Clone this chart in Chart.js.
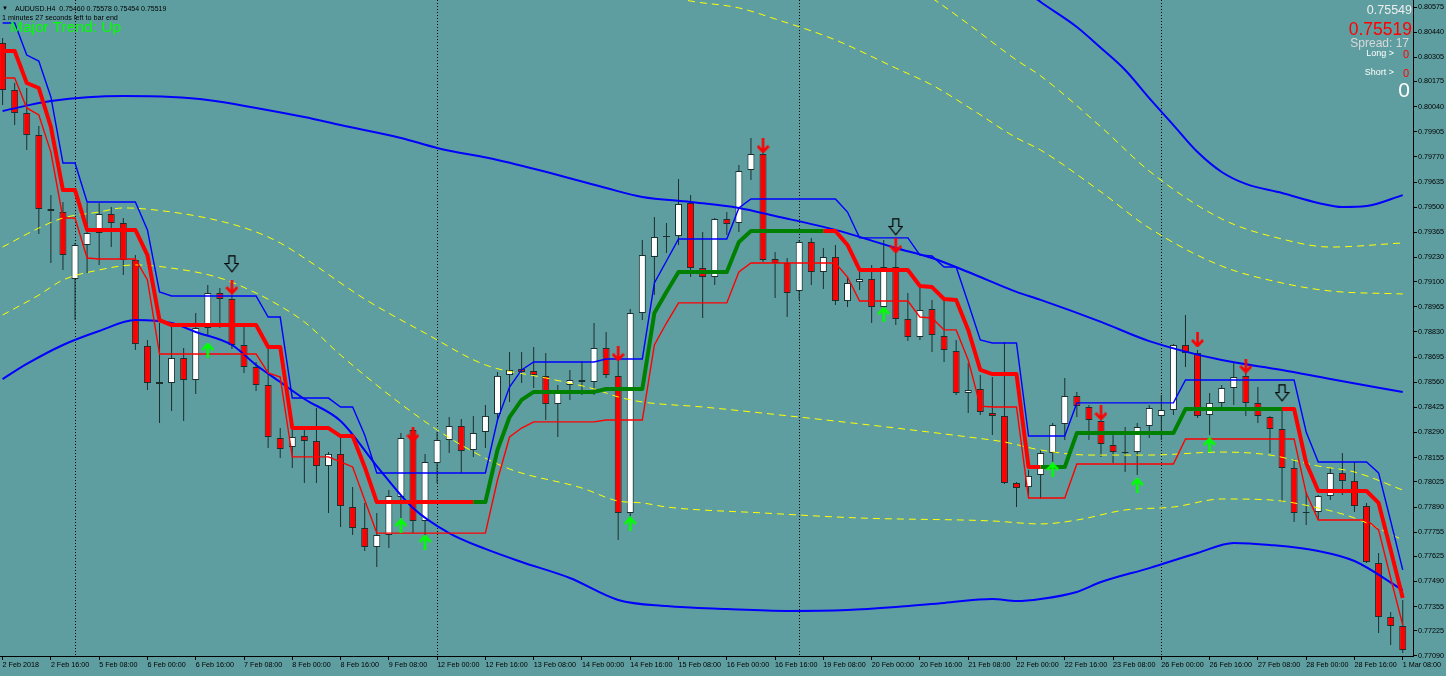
<!DOCTYPE html>
<html><head><meta charset="utf-8">
<script src="https://cdn.jsdelivr.net/npm/chart.js@4.4.1/dist/chart.umd.min.js"></script>
<style>
html,body{margin:0;padding:0;background:#5F9EA0;}
#wrap{position:relative;width:1446px;height:676px;background:#5F9EA0;overflow:hidden;}
#c{position:absolute;left:0;top:0;}
.t{position:absolute;white-space:nowrap;font-family:'Liberation Sans',Arial,sans-serif;line-height:1;}
.r{text-align:right;}
</style></head><body>
<div id="wrap">
<canvas id="c" width="1446" height="676"></canvas>
<div class="t" style="left:2px;top:5px;font-size:6px;color:#000;">▼</div>
<div class="t" style="left:15px;top:4.6px;font-size:7px;color:#000;">AUDUSD.H4&nbsp;&nbsp;0.75460 0.75578 0.75454 0.75519</div>
<div class="t" style="left:2px;top:13.5px;font-size:7.2px;color:#000;">1 minutes 27 seconds left to bar end</div>
<div class="t" style="left:10px;top:19.2px;font-size:15.5px;color:#00FF00;">Major Trend: Up</div>
<div class="t r" style="right:34px;top:4.4px;font-size:12.5px;color:#EEEEEE;">0.75549</div>
<div class="t r" style="right:34px;top:20.9px;font-size:17.5px;color:#FF0000;">0.75519</div>
<div class="t r" style="right:37px;top:37.1px;font-size:12px;color:#D8D8D8;">Spread: 17</div>
<div class="t r" style="right:52px;top:48.6px;font-size:9px;color:#FFFFFF;">Long &gt;</div>
<div class="t r" style="right:37px;top:48.6px;font-size:11px;color:#FF0000;">0</div>
<div class="t r" style="right:52px;top:68px;font-size:9px;color:#FFFFFF;">Short &gt;</div>
<div class="t r" style="right:37px;top:67.6px;font-size:11px;color:#FF0000;">0</div>
<div class="t r" style="right:36px;top:79.2px;font-size:21px;color:#FFFFFF;">0</div>
</div>
<script>
// ---- tick labels ----
const xLabels = ["2 Feb 2018","2 Feb 16:00","5 Feb 08:00","6 Feb 00:00","6 Feb 16:00","7 Feb 08:00","8 Feb 00:00","8 Feb 16:00","9 Feb 08:00","12 Feb 00:00","12 Feb 16:00","13 Feb 08:00","14 Feb 00:00","14 Feb 16:00","15 Feb 08:00","16 Feb 00:00","16 Feb 16:00","19 Feb 08:00","20 Feb 00:00","20 Feb 16:00","21 Feb 08:00","22 Feb 00:00","22 Feb 16:00","23 Feb 08:00","26 Feb 00:00","26 Feb 16:00","27 Feb 08:00","28 Feb 00:00","28 Feb 16:00","1 Mar 08:00"];
const xTickBars = [0,4,8,12,16,20,24,28,32,36,40,44,48,52,56,60,64,68,72,76,80,84,88,92,96,100,104,108,112,116];
const yTicks = [0.80575,0.80440,0.80305,0.80175,0.80040,0.79905,0.79770,0.79635,0.79500,0.79365,0.79230,0.79100,0.78965,0.78830,0.78695,0.78560,0.78425,0.78290,0.78155,0.78025,0.77890,0.77755,0.77625,0.77490,0.77355,0.77225,0.77090];
const weekSeparatorBars = [6,36,66,96];

// ---- candles (H4 bars) ----
const open = [0.80382,0.80129,0.80006,0.79888,0.79490,0.79474,0.79114,0.79297,0.79361,0.79463,
0.79415,0.79216,0.78755,0.78561,0.78556,0.78690,0.78572,0.78851,0.79039,0.79007,
0.78760,0.78642,0.78545,0.78261,0.78212,0.78271,0.78244,0.78110,0.78175,0.77890,
0.77777,0.77675,0.77740,0.77944,0.78304,0.77815,0.78126,0.78250,0.78325,0.78196,
0.78293,0.78389,0.78599,0.78631,0.78620,0.78594,0.78443,0.78545,0.78572,0.78561,
0.78744,0.78594,0.77858,0.78932,0.79233,0.79340,0.79345,0.79523,0.79173,0.79125,
0.79437,0.79415,0.79700,0.79786,0.79222,0.79200,0.79050,0.79313,0.79152,0.79233,
0.78996,0.79098,0.79114,0.78964,0.79179,0.78900,0.78803,0.78953,0.78808,0.78728,
0.78502,0.78524,0.78395,0.78379,0.78019,0.77997,0.78062,0.78180,0.78336,0.78486,
0.78427,0.78352,0.78223,0.78185,0.78185,0.78325,0.78379,0.78411,0.78760,0.78717,
0.78384,0.78449,0.78529,0.78594,0.78449,0.78373,0.78309,0.78099,0.77863,0.77863,
0.77949,0.78073,0.78030,0.77895,0.77589,0.77299,0.77251];
const high = [0.80409,0.80167,0.80140,0.79936,0.79565,0.79528,0.79308,0.79523,0.79523,0.79501,
0.79442,0.79243,0.78787,0.78878,0.78857,0.78744,0.78932,0.79082,0.79066,0.79028,
0.78857,0.78669,0.78744,0.78314,0.78320,0.78314,0.78422,0.78185,0.78277,0.77997,
0.77912,0.77858,0.77981,0.78287,0.78314,0.78175,0.78293,0.78373,0.78363,0.78379,
0.78438,0.78615,0.78722,0.78722,0.78749,0.78717,0.78545,0.78626,0.78674,0.78878,
0.78830,0.78679,0.78953,0.79324,0.79447,0.79415,0.79651,0.79565,0.79367,0.79442,
0.79474,0.79727,0.79872,0.79807,0.79259,0.79227,0.79324,0.79335,0.79281,0.79297,
0.79125,0.79152,0.79190,0.79324,0.79259,0.79039,0.79066,0.79002,0.79002,0.78787,
0.78663,0.78599,0.78588,0.78776,0.78024,0.78089,0.78196,0.78341,0.78583,0.78508,
0.78438,0.78357,0.78293,0.78320,0.78341,0.78438,0.78491,0.78765,0.78921,0.78733,
0.78502,0.78545,0.78663,0.78610,0.78534,0.78379,0.78411,0.78148,0.77971,0.77954,
0.78099,0.78180,0.78132,0.77912,0.77643,0.77326,0.77391];
const low = [0.80049,0.79941,0.79807,0.79356,0.79200,0.79163,0.78894,0.79147,0.79190,0.79286,
0.79136,0.78733,0.78518,0.78341,0.78406,0.78352,0.78497,0.78814,0.78851,0.78739,
0.78610,0.78513,0.78207,0.78153,0.78099,0.78019,0.78019,0.77858,0.77783,0.77740,
0.77654,0.77568,0.77670,0.77831,0.77750,0.77740,0.78019,0.78180,0.78073,0.78159,
0.78207,0.78357,0.78454,0.78556,0.78529,0.78357,0.78266,0.78465,0.78491,0.78491,
0.78583,0.77713,0.77820,0.78894,0.79028,0.79254,0.79297,0.79125,0.78905,0.79082,
0.79351,0.79367,0.79646,0.79206,0.79012,0.78910,0.79002,0.79082,0.79061,0.78975,
0.78964,0.79055,0.78878,0.78953,0.78867,0.78781,0.78787,0.78722,0.78669,0.78491,
0.78395,0.78384,0.78277,0.78014,0.77890,0.77938,0.77933,0.78132,0.78250,0.78373,
0.78250,0.78159,0.78126,0.78078,0.78062,0.78261,0.78250,0.78384,0.78642,0.78368,
0.78277,0.78411,0.78438,0.78379,0.78341,0.78180,0.77917,0.77810,0.77793,0.77820,
0.77928,0.77954,0.77863,0.77589,0.77213,0.77149,0.77106];
const close = [0.80129,0.80006,0.79888,0.79490,0.79480,0.79243,0.79297,0.79361,0.79463,0.79415,
0.79216,0.78765,0.78556,0.78551,0.78690,0.78572,0.78851,0.79039,0.79007,0.78760,
0.78642,0.78545,0.78266,0.78202,0.78266,0.78244,0.78110,0.78175,0.77895,0.77777,
0.77675,0.77740,0.77949,0.78261,0.77815,0.78132,0.78250,0.78325,0.78191,0.78287,
0.78379,0.78594,0.78626,0.78615,0.78599,0.78443,0.78502,0.78572,0.78561,0.78744,
0.78599,0.77858,0.78932,0.79243,0.79340,0.79345,0.79517,0.79173,0.79125,0.79437,
0.79410,0.79694,0.79786,0.79216,0.79200,0.79039,0.79313,0.79152,0.79233,0.78996,
0.79093,0.79114,0.78964,0.79179,0.78900,0.78803,0.78948,0.78814,0.78733,0.78502,
0.78518,0.78400,0.78379,0.78019,0.77992,0.78057,0.78180,0.78330,0.78486,0.78432,
0.78357,0.78228,0.78185,0.78180,0.78320,0.78422,0.78411,0.78760,0.78717,0.78379,
0.78449,0.78529,0.78588,0.78449,0.78379,0.78309,0.78099,0.77858,0.77858,0.77949,
0.78073,0.78030,0.77895,0.77595,0.77299,0.77251,0.77122];

// ---- channel / trend lines (one value per bar) ----
const channelHigh = [0.80489,0.80489,0.80317,0.80285,0.80092,0.79737,0.79737,0.79528,0.79528,0.79528,
0.79528,0.79528,0.79378,0.79045,0.79023,0.79023,0.79023,0.79023,0.79023,0.79023,
0.79023,0.79023,0.78910,0.78910,0.78475,0.78475,0.78475,0.78475,0.78427,0.78427,
0.78277,0.78073,0.78073,0.78073,0.78073,0.78073,0.78073,0.78073,0.78073,0.78073,
0.78073,0.78357,0.78534,0.78626,0.78669,0.78669,0.78669,0.78669,0.78669,0.78669,
0.78685,0.78685,0.78685,0.78685,0.79093,0.79211,0.79329,0.79329,0.79329,0.79329,
0.79329,0.79496,0.79544,0.79544,0.79544,0.79544,0.79544,0.79544,0.79544,0.79544,
0.79474,0.79335,0.79335,0.79335,0.79335,0.79335,0.79243,0.79238,0.79179,0.79179,
0.78986,0.78787,0.78771,0.78771,0.78771,0.78271,0.78271,0.78271,0.78271,0.78449,
0.78449,0.78449,0.78449,0.78449,0.78449,0.78449,0.78449,0.78449,0.78572,0.78572,
0.78572,0.78572,0.78572,0.78572,0.78572,0.78572,0.78572,0.78572,0.78293,0.78132,
0.78132,0.78132,0.78132,0.78132,0.78073,0.77815,0.77552];
const trendLine = [0.80339,0.80339,0.80167,0.80140,0.79931,0.79592,0.79592,0.79378,0.79378,0.79378,
0.79378,0.79378,0.79243,0.78894,0.78867,0.78867,0.78867,0.78867,0.78867,0.78867,
0.78867,0.78867,0.78749,0.78749,0.78314,0.78314,0.78314,0.78314,0.78271,0.78271,
0.78105,0.77917,0.77917,0.77917,0.77917,0.77917,0.77917,0.77917,0.77917,0.77917,
0.77917,0.78196,0.78373,0.78465,0.78508,0.78508,0.78508,0.78508,0.78508,0.78508,
0.78524,0.78524,0.78524,0.78524,0.78932,0.79045,0.79152,0.79152,0.79152,0.79152,
0.79152,0.79313,0.79372,0.79372,0.79372,0.79372,0.79372,0.79372,0.79372,0.79372,
0.79297,0.79163,0.79163,0.79163,0.79163,0.79163,0.79077,0.79071,0.79007,0.79002,
0.78841,0.78626,0.78604,0.78604,0.78604,0.78105,0.78105,0.78105,0.78105,0.78287,
0.78287,0.78287,0.78287,0.78287,0.78287,0.78287,0.78287,0.78287,0.78416,0.78416,
0.78416,0.78416,0.78416,0.78416,0.78416,0.78416,0.78416,0.78416,0.78126,0.77976,
0.77976,0.77976,0.77976,0.77976,0.77912,0.77659,0.77401];
const channelLow = [0.80194,0.80194,0.80033,0.79995,0.79796,0.79442,0.79442,0.79227,0.79222,0.79222,
0.79222,0.79222,0.79109,0.78712,0.78712,0.78712,0.78712,0.78712,0.78712,0.78712,
0.78712,0.78712,0.78610,0.78588,0.78159,0.78159,0.78159,0.78159,0.78132,0.78105,
0.77928,0.77750,0.77750,0.77750,0.77750,0.77750,0.77750,0.77750,0.77750,0.77750,
0.77750,0.78035,0.78266,0.78314,0.78347,0.78347,0.78347,0.78347,0.78347,0.78347,
0.78357,0.78357,0.78357,0.78357,0.78760,0.78878,0.78986,0.78986,0.78986,0.78986,
0.78986,0.79152,0.79200,0.79200,0.79200,0.79200,0.79200,0.79200,0.79200,0.79200,
0.79125,0.78996,0.78996,0.78996,0.78996,0.78996,0.78910,0.78905,0.78841,0.78841,
0.78679,0.78432,0.78427,0.78427,0.78427,0.77938,0.77938,0.77938,0.77938,0.78121,
0.78121,0.78121,0.78121,0.78121,0.78121,0.78121,0.78121,0.78121,0.78255,0.78255,
0.78255,0.78255,0.78255,0.78255,0.78255,0.78255,0.78255,0.78255,0.77965,0.77820,
0.77820,0.77820,0.77820,0.77820,0.77767,0.77509,0.77256];
// trend colour: bars where the trend line segment is green (uptrend)
const upTrendRanges = [[39,67],[86,105]];

// ---- bands (read at selected bars) ----
const bbMidBars = [0,4,10,14,17,21,25,28,33,36,41,46,50,53,57,61,64,69,74,77,80,84,86,91,95,101,106,110,116];
const bbMidVals = [0.80017,0.80070,0.80097,0.80092,0.80076,0.80033,0.79984,0.79941,0.79872,0.79818,0.79753,0.79673,0.79603,0.79555,0.79528,0.79496,0.79453,0.79378,0.79281,0.79227,0.79152,0.79045,0.79002,0.78884,0.78781,0.78679,0.78626,0.78577,0.78508];
const bbLowBars = [0,2,5,8,11,14,16,19,21,23,25,28,31,34,37,40,43,47,51,55,60,65,70,74,78,82,84,86,89,91,95,99,102,105,109,112,116];
const bbLowVals = [0.78577,0.78658,0.78760,0.78835,0.78894,0.78878,0.78830,0.78760,0.78653,0.78561,0.78470,0.78352,0.78110,0.77885,0.77750,0.77665,0.77595,0.77509,0.77391,0.77358,0.77342,0.77332,0.77337,0.77353,0.77375,0.77396,0.77385,0.77396,0.77434,0.77487,0.77562,0.77643,0.77697,0.77686,0.77654,0.77600,0.77444];
const bbUpBars = [80,83,86,89,91,93,95,97,99,101,103,106,109,111,113,116];
const bbUpVals = [0.80924,0.80747,0.80602,0.80468,0.80355,0.80237,0.80086,0.79941,0.79796,0.79689,0.79625,0.79576,0.79523,0.79501,0.79506,0.79565];
const ylInBars = [0,3,5,8,10,14,18,21,23,25,30,35,40,45,49,51,53,58,66,74,80,83,86,90,95,101,105,109,112,116];
const ylInVals = [0.79286,0.79388,0.79442,0.79474,0.79496,0.79474,0.79426,0.79367,0.79308,0.79227,0.79007,0.78824,0.78653,0.78583,0.78524,0.78481,0.78454,0.78427,0.78373,0.78314,0.78266,0.78239,0.78196,0.78169,0.78169,0.78185,0.78169,0.78110,0.78078,0.77981];
const ylOutBars = [0,3,5,8,11,14,18,21,23,25,28,34,38,42,48,51,53,55,63,71,82,86,89,93,97,101,105,109,112,116];
const ylOutVals = [0.78921,0.79028,0.79109,0.79163,0.79190,0.79173,0.79120,0.79039,0.78969,0.78884,0.78706,0.78395,0.78223,0.78094,0.77992,0.77922,0.77912,0.77890,0.77858,0.77831,0.77815,0.77799,0.77820,0.77874,0.77890,0.77933,0.77928,0.77885,0.77831,0.77713];
const yuInBars = [50,57,61,64,69,74,77,80,84,86,91,95,101,106,110,116];
const yuInVals = [0.80709,0.80607,0.80570,0.80511,0.80398,0.80247,0.80156,0.80038,0.79872,0.79807,0.79582,0.79388,0.79184,0.79093,0.79050,0.79034];
const yuOutBars = [72,77,80,84,86,91,95,101,106,110,116];
const yuOutVals = [0.80827,0.80623,0.80484,0.80290,0.80205,0.79931,0.79694,0.79437,0.79329,0.79286,0.79308];

// ---- signal arrows ----
const sellArrowBars = [19,34,51,63,74,91,99,103];
const sellArrowVals = [0.79071,0.78277,0.78712,0.79829,0.79292,0.78395,0.78787,0.78647];
const buyArrowBars = [17,33,35,52,73,87,94,100];
const buyArrowVals = [0.78733,0.77788,0.77702,0.77799,0.78926,0.78089,0.78008,0.78223];
const trendArrowBars = [19,74,106];
const trendArrowVals = [0.79195,0.79394,0.78502];

// ---------- build ----------
const Y_MIN = 0.770899, Y_MAX = 0.806126;
const X_MIN = -0.2154, X_MAX = 116.85;
const WICK = '#1c2e2e';

function mkArrow(dir, color){
  const c = document.createElement('canvas'); c.width = 13; c.height = 15;
  const g = c.getContext('2d'); g.strokeStyle = color; g.lineWidth = 2.6; g.lineCap='butt'; g.lineJoin='miter';
  g.beginPath();
  if (dir === 'down') { g.moveTo(6.5,0); g.lineTo(6.5,13.5); g.moveTo(1,7.5); g.lineTo(6.5,13.5); g.lineTo(12,7.5); }
  else { g.moveTo(6.5,15); g.lineTo(6.5,1.5); g.moveTo(1,7.5); g.lineTo(6.5,1.5); g.lineTo(12,7.5); }
  g.stroke(); return c;
}
function mkHollow(){
  const c = document.createElement('canvas'); c.width = 15; c.height = 18;
  const g = c.getContext('2d'); g.strokeStyle = '#000'; g.lineWidth = 1.2;
  g.beginPath(); g.moveTo(4.5,0.8); g.lineTo(10.5,0.8); g.lineTo(10.5,8.5); g.lineTo(14,8.5); g.lineTo(7.5,16.8); g.lineTo(1,8.5); g.lineTo(4.5,8.5); g.closePath();
  g.stroke(); return c;
}
const pts = (bars, vals) => bars.map((b,k)=>({x:b, y:vals[k]}));
const series = arr => arr.map((v,i)=>({x:i, y:v}));
const isUp = i => upTrendRanges.some(r => i >= r[0] && i <= r[1]);

const sepPlugin = {
  id:'sep',
  beforeDatasetsDraw(chart){
    const {ctx, chartArea:a, scales:{x}} = chart;
    ctx.save(); ctx.strokeStyle = '#000'; ctx.lineWidth = 1; ctx.setLineDash([1,2]);
    weekSeparatorBars.forEach(b=>{
      const px = Math.round(x.getPixelForValue(b)) + 0.5;
      ctx.beginPath(); ctx.moveTo(px, a.top); ctx.lineTo(px, a.bottom); ctx.stroke();
    });
    ctx.restore();
  }
};

const lineBase = {type:'line', pointRadius:0, pointHoverRadius:0, fill:false};
const bandStyle = {cubicInterpolationMode:'monotone', tension:0.4};

new Chart(document.getElementById('c'), {
  type:'line',
  data:{datasets:[
    {...lineBase, showLine:false, data:pts(sellArrowBars, sellArrowVals), pointStyle:mkArrow('down','#FF0000'), pointRadius:7, order:0},
    {...lineBase, showLine:false, data:pts(buyArrowBars, buyArrowVals), pointStyle:mkArrow('up','#00FF00'), pointRadius:7, order:0},
    {...lineBase, showLine:false, data:pts(trendArrowBars, trendArrowVals), pointStyle:mkHollow(), pointRadius:8, order:0},
    {...lineBase, data:series(trendLine), borderWidth:4, borderColor:'#FF0000', borderJoinStyle:'round',
      segment:{borderColor: c => isUp(c.p0DataIndex) ? '#008000' : '#FF0000'}, order:1},
    {...lineBase, data:series(channelLow), borderWidth:1.4, borderColor:'#FF0000', order:2},
    {...lineBase, data:series(channelHigh), borderWidth:1.4, borderColor:'#0000FF', order:3},
    {...lineBase, ...bandStyle, data:pts(bbMidBars, bbMidVals), borderWidth:2, borderColor:'#0000FF', order:4},
    {...lineBase, ...bandStyle, data:pts(bbLowBars, bbLowVals), borderWidth:2, borderColor:'#0000FF', order:4},
    {...lineBase, ...bandStyle, data:pts(bbUpBars, bbUpVals), borderWidth:2, borderColor:'#0000FF', order:4},
    {...lineBase, ...bandStyle, data:pts(ylInBars, ylInVals), borderWidth:1, borderColor:'#FFFF00', borderDash:[7,5], order:5},
    {...lineBase, ...bandStyle, data:pts(ylOutBars, ylOutVals), borderWidth:1, borderColor:'#FFFF00', borderDash:[7,5], order:5},
    {...lineBase, ...bandStyle, data:pts(yuInBars, yuInVals), borderWidth:1, borderColor:'#FFFF00', borderDash:[7,5], order:5},
    {...lineBase, ...bandStyle, data:pts(yuOutBars, yuOutVals), borderWidth:1, borderColor:'#FFFF00', borderDash:[7,5], order:5},
    {type:'bar', data:open.map((o,i)=>({x:i, y:[o, close[i]]})), barThickness:7, borderWidth:1, borderColor:WICK,
      borderSkipped:false, inflateAmount:0, minBarLength:1, grouped:false,
      backgroundColor: open.map((o,i)=> close[i] >= o ? '#FFFFFF' : '#FF0000'), order:6},
    {type:'bar', data:open.map((o,i)=>({x:i, y:[low[i], high[i]]})), barThickness:1, borderWidth:0,
      inflateAmount:0, grouped:false, backgroundColor:WICK, order:7}
  ]},
  options:{
    responsive:false, animation:false, devicePixelRatio:1,
    layout:{padding:0, autoPadding:false},
    plugins:{legend:{display:false}, tooltip:{enabled:false}, title:{display:false}},
    events:[],
    scales:{
      x:{type:'linear', min:X_MIN, max:X_MAX, offset:false, position:'bottom',
        afterBuildTicks: s => { s.ticks = xTickBars.map(v=>({value:v})); },
        afterFit: s => { s.height = 20; s.paddingLeft = 0; s.paddingRight = 0; },
        ticks:{autoSkip:false, maxRotation:0, minRotation:0, align:'start', padding:1, color:'#000',
          font:{family:"'Liberation Sans', Arial, sans-serif", size:7.2}, callback:(v,i)=>xLabels[i]},
        grid:{drawOnChartArea:false, drawTicks:true, tickLength:4, color:'#000', offset:false},
        border:{display:true, color:'#000', width:1}
      },
      y:{type:'linear', position:'right', min:Y_MIN, max:Y_MAX,
        afterBuildTicks: s => { s.ticks = yTicks.map(v=>({value:v})); },
        afterFit: s => { s.width = 33; s.paddingTop = 0; s.paddingBottom = 0; },
        ticks:{autoSkip:false, padding:1, color:'#000',
          font:{family:"'Liberation Sans', Arial, sans-serif", size:7.2}, callback: v => Number(v).toFixed(5)},
        grid:{drawOnChartArea:false, drawTicks:true, tickLength:4, color:'#000'},
        border:{display:true, color:'#000', width:1}
      }
    }
  },
  plugins:[sepPlugin]
});
</script>
</body></html>
